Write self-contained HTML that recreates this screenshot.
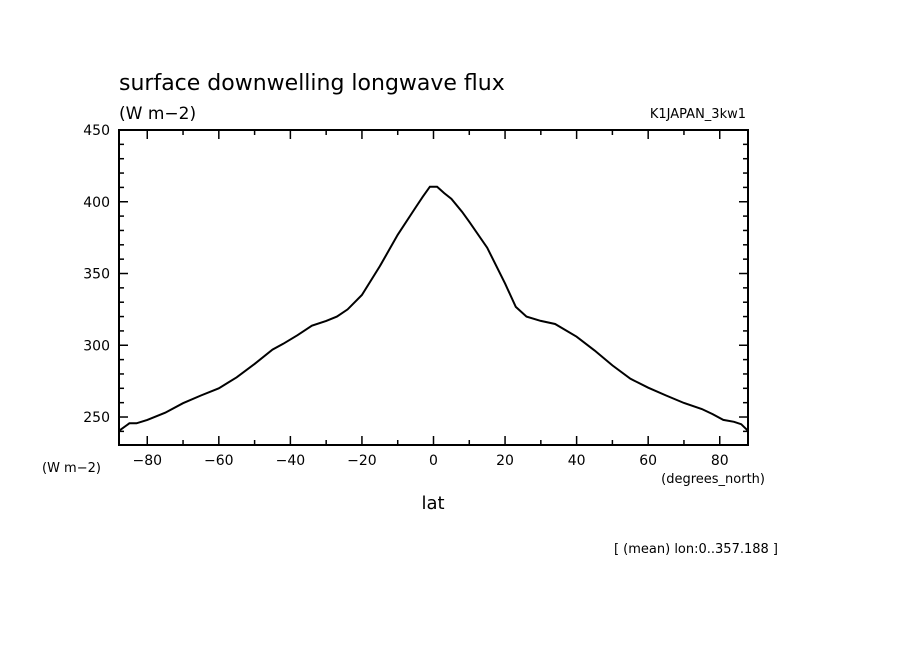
<!DOCTYPE html>
<html><head><meta charset="utf-8"><style>
body{margin:0;background:#fff}
svg{display:block;font-family:"DejaVu Sans","Liberation Sans",sans-serif}
</style></head><body>
<svg id="c" width="904" height="654" xmlns="http://www.w3.org/2000/svg">
<rect width="904" height="654" fill="#fff"/>
<text x="119" y="90" font-size="22">surface downwelling longwave flux</text>
<text x="119" y="119" font-size="17">(W m−2)</text>
<text x="746" y="118" font-size="13" text-anchor="end">K1JAPAN_3kw1</text>
<text x="42" y="472" font-size="13">(W m−2)</text>
<text x="765" y="483" font-size="13" text-anchor="end">(degrees_north)</text>
<text x="433" y="509" font-size="18" text-anchor="middle">lat</text>
<text x="778" y="553" font-size="13" text-anchor="end">[ (mean) lon:0..357.188 ]</text>
<g id="axes"></g>
<path id="line" fill="none" stroke="#000" stroke-width="2"/>
<rect x="119" y="130" width="629" height="315" fill="none" stroke="#000" stroke-width="2"/>
</svg>
<script>
const lats=[-87.9,-85,-83,-80,-75,-70,-65,-60,-55,-50,-45,-42,-38,-34,-30,-27,-24,-20,-15,-10,-5,-3,-1,1,3,5,8,10,15,20,23,26,30,34,40,45,50,55,60,65,70,75,78,81,84,86,87.9];
const flux=[240.4,245.6,245.6,248,253,259.6,265,270,277.7,287,297,301,307,313.6,317,320,325,335,355,377,396,403.5,410.5,410.5,406,402,393,386,368,343,326.7,320,317,314.8,306,296.4,286,276.7,270.4,265,259.8,255.6,252,248,246.7,245,240.4];
const xTicks=[-80,-60,-40,-20,0,20,40,60,80];
const yTicks=[250,300,350,400,450];
const X0=119,X1=748,Y0=445,Y1=130,XMIN=-87.9,XMAX=87.9,YMIN=230.5,YMAX=450;
const sx=v=>X0+(v-XMIN)/(XMAX-XMIN)*(X1-X0);
const sy=v=>Y0-(v-YMIN)/(YMAX-YMIN)*(Y0-Y1);
const NS="http://www.w3.org/2000/svg";
const g=document.getElementById('axes');
function ln(x1,y1,x2,y2,name){const l=document.createElementNS(NS,'line');
l.setAttribute('x1',x1);l.setAttribute('y1',y1);l.setAttribute('x2',x2);l.setAttribute('y2',y2);l.setAttribute('stroke','#000');l.setAttribute('stroke-width','1.5');


g.appendChild(l);}
function tx(x,y,s,anchor,name){const t=document.createElementNS(NS,'text');t.setAttribute('x',x);t.setAttribute('y',y);t.setAttribute('font-size','14');t.setAttribute('text-anchor',anchor);t.textContent=s;


g.appendChild(t);}
for(let v=-80;v<=80;v+=10){const x=sx(v),L=(v%20===0)?9:5;ln(x,Y0,x,Y0-L,'x-tick');ln(x,Y1,x,Y1+L,'x-tick-top');}
for(let v=240;v<=450;v+=10){const y=sy(v);if(y>Y0||y<Y1)continue;const L=(v%50===0)?9:5;ln(X0,y,X0+L,y,'y-tick');ln(X1,y,X1-L,y,'y-tick-right');}
xTicks.forEach(v=>tx(sx(v),465,v<0?'−'+(-v):String(v),'middle','x-tick-label'));
yTicks.forEach(v=>tx(110,sy(v)+5,String(v),'end','y-tick-label'));
document.getElementById('line').setAttribute('d',lats.map((v,i)=>(i?'L':'M')+sx(v).toFixed(1)+','+sy(flux[i]).toFixed(1)).join(''));
</script>
</body></html>
